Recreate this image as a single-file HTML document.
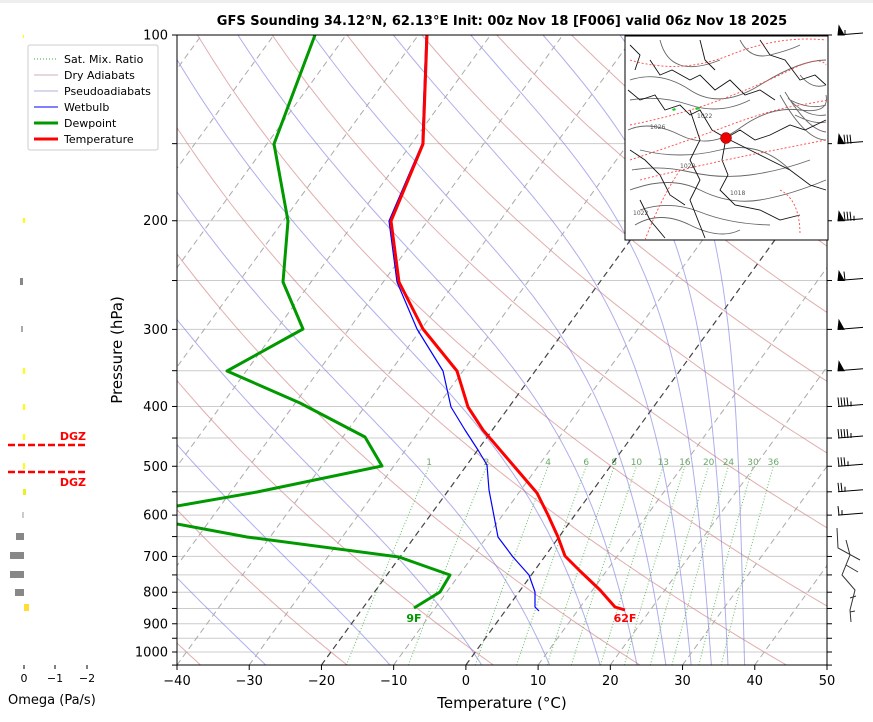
<!DOCTYPE html>
<html><head><meta charset="utf-8"><style>
html,body{margin:0;padding:0;background:#fff;}
svg text{font-family:"DejaVu Sans","Liberation Sans",sans-serif;}
</style></head><body>
<svg id="s" width="873" height="717" viewBox="0 0 873 717" xmlns="http://www.w3.org/2000/svg">
<rect x="0" y="0" width="873" height="717" fill="#fff"/>
<rect x="0" y="0" width="873" height="3" fill="#eee"/>
<defs><clipPath id="cp"><rect x="177" y="35" width="650" height="630"/></clipPath></defs>
<g id="bg" clip-path="url(#cp)"></g>
<g id="prof" clip-path="url(#cp)"></g>
<g id="ax"></g>
<!-- inset map -->
<g>
<rect x="625" y="36" width="203" height="204" fill="#fff" stroke="#000" stroke-width="1"/>
<g fill="none" stroke="#666" stroke-width="0.9">
<path d="M630 80 Q660 70 690 90 T760 85 T826 60"/>
<path d="M628 130 Q650 120 680 135 T740 128 T800 110 T826 95"/>
<path d="M640 150 Q680 160 720 150 T790 170"/>
<path d="M630 190 Q670 175 700 190 T760 200 T826 180"/>
<path d="M635 225 Q660 210 690 225 T740 230"/>
<path d="M790 100 Q810 110 826 105 M795 115 Q815 125 826 122 M800 75 Q812 90 826 85 M780 95 Q805 140 826 140 M785 92 Q808 130 826 132 M788 98 Q806 118 826 115"/>
<path d="M740 40 Q750 60 770 55 T800 45"/>
<path d="M630 100 Q660 95 690 105 T750 100"/>
<path d="M632 170 Q660 165 690 172 T750 175 T810 160"/>
<path d="M640 210 Q670 200 700 212 T770 225"/>
<path d="M660 40 Q665 60 680 65 T720 60"/>
</g>
<g fill="none" stroke="#111" stroke-width="0.9">
<path d="M628 90 L640 100 L655 95 L665 110 L680 105 L690 115 L700 110 L712 130 L726 138 L740 130 L755 140 L770 135 L790 125 L805 130 L826 120"/>
<path d="M726 138 L722 160 L728 175 L720 190 L735 205 L760 210 L780 220 L800 215"/>
<path d="M650 60 L660 75 L672 70 L690 80 L700 75 L715 90 L730 80 L745 95 L760 90 L775 100"/>
<path d="M700 40 L705 60 L715 70 M690 110 L700 140 L690 160 L700 180 L690 200 L705 238"/>
<path d="M726 138 L750 150 L770 160 L790 170 L810 185 L826 190"/>
<path d="M630 150 L645 160 L660 175 L670 195 L685 205 M640 200 L650 220 L665 238"/>
<path d="M760 40 L770 55 L785 60 L800 80 L815 75 L826 85 M630 45 L640 55 L635 70"/>
</g>
<g fill="none" stroke="#f44" stroke-width="0.9" stroke-dasharray="2,2">
<path d="M630 60 Q680 75 730 55 T826 40"/>
<path d="M630 125 Q680 115 720 100 T790 70 T826 65"/>
<path d="M630 160 Q690 140 730 125 T800 105 T826 100"/>
<path d="M640 180 Q700 165 750 155 T826 140"/>
<path d="M645 240 Q660 200 680 170"/>
<path d="M780 190 Q800 200 800 235"/>
</g>
<path d="M672 109 l3 -1 l1 2 l-3 1z M695 108 l4 -1 l1 2 l-4 1z" fill="#2c2"/>
<circle cx="726" cy="138" r="5.5" fill="#e00" stroke="#600" stroke-width="0.5"/>
<g font-size="6" fill="#555"><text x="633" y="215">1022</text><text x="680" y="168">1020</text><text x="730" y="195">1018</text><text x="650" y="129">1026</text><text x="697" y="118">1022</text></g>
</g>
<!-- legend -->
<g font-size="11" fill="#000">
<rect x="28" y="45" width="130" height="105" fill="#fff" stroke="#ccc" rx="2"/>
<line x1="34" y1="59" x2="58" y2="59" stroke="#4a4" stroke-dasharray="1,2"/><text x="64" y="63">Sat. Mix. Ratio</text>
<line x1="34" y1="75" x2="58" y2="75" stroke="#b99" stroke-width="0.8"/><text x="64" y="79">Dry Adiabats</text>
<line x1="34" y1="91" x2="58" y2="91" stroke="#99c" stroke-width="0.8"/><text x="64" y="95">Pseudoadiabats</text>
<line x1="34" y1="107" x2="58" y2="107" stroke="#00f" stroke-width="1"/><text x="64" y="111">Wetbulb</text>
<line x1="34" y1="123" x2="58" y2="123" stroke="#090" stroke-width="3"/><text x="64" y="127">Dewpoint</text>
<line x1="34" y1="139" x2="58" y2="139" stroke="#f00" stroke-width="3"/><text x="64" y="143">Temperature</text>
</g>
<text x="502" y="25" font-size="13" font-weight="bold" text-anchor="middle">GFS Sounding 34.12°N, 62.13°E Init: 00z Nov 18 [F006] valid 06z Nov 18 2025</text>
<text x="502" y="708" font-size="15" text-anchor="middle">Temperature (°C)</text>
<text transform="translate(122,350) rotate(-90)" font-size="15" text-anchor="middle">Pressure (hPa)</text>
<!-- omega panel -->
<g>
<rect x="23" y="35" width="1" height="3" fill="#ff0"/>
<rect x="23" y="218" width="2" height="5" fill="#ff0"/>
<rect x="20" y="278" width="3" height="7" fill="#888"/>
<rect x="21" y="326" width="2" height="6" fill="#aaa"/>
<rect x="23" y="368" width="2" height="6" fill="#ff0"/>
<rect x="23" y="404" width="2" height="6" fill="#ff0"/>
<rect x="23" y="434" width="2" height="6" fill="#ff0"/>
<rect x="23" y="463" width="2" height="6" fill="#ff0"/>
<rect x="23" y="489" width="3" height="6" fill="#ee2"/>
<rect x="22" y="512" width="2" height="6" fill="#ccc"/>
<rect x="16" y="533" width="8" height="7" fill="#888"/>
<rect x="10" y="552" width="14" height="7" fill="#888"/>
<rect x="10" y="571" width="14" height="7" fill="#888"/>
<rect x="15" y="589" width="9" height="7" fill="#888"/>
<rect x="24" y="604" width="5" height="7" fill="#fd3"/>
<line x1="8" y1="445" x2="86" y2="445" stroke="#f00" stroke-width="2.5" stroke-dasharray="7,3"/>
<line x1="8" y1="472" x2="86" y2="472" stroke="#f00" stroke-width="2.5" stroke-dasharray="7,3"/>
<text x="86" y="440" font-size="11" font-weight="bold" fill="#f00" text-anchor="end">DGZ</text>
<text x="86" y="486" font-size="11" font-weight="bold" fill="#f00" text-anchor="end">DGZ</text>
<g stroke="#000"><line x1="24" y1="665" x2="24" y2="669"/><line x1="55" y1="665" x2="55" y2="669"/><line x1="87" y1="665" x2="87" y2="669"/></g>
<g font-size="11" text-anchor="middle"><text x="24" y="682">0</text><text x="55" y="682">−1</text><text x="87" y="682">−2</text></g>
<text x="8" y="704" font-size="13">Omega (Pa/s)</text>
</g>
<g id="barbs" stroke="#000" fill="#000" stroke-width="1"></g>
</svg>
<script>
(function(){
var NS="http://www.w3.org/2000/svg";
function yP(p){return 35+617*Math.log10(p/100);}
function xT(T,p){return 177+7.2222*(T+40)+0.727*(665-yP(p));}
function el(parent,tag,attrs,txt){var e=document.createElementNS(NS,tag);for(var k in attrs)e.setAttribute(k,attrs[k]);if(txt!=null)e.textContent=txt;parent.appendChild(e);return e;}
var bg=document.getElementById('bg'),prof=document.getElementById('prof'),ax=document.getElementById('ax');
for(var p=100;p<=1050;p+=50){var y=yP(p);el(bg,'line',{x1:177,x2:827,y1:y,y2:y,stroke:'#ccc','stroke-width':1});}
function poly(arr,attrs){var d='';for(var i=0;i<arr.length;i++){d+=(i?'L':'M')+arr[i][0].toFixed(1)+' '+arr[i][1].toFixed(1);}attrs.d=d;attrs.fill='none';return el(bg,'path',attrs);}
for(var t0=-40;t0<=200;t0+=20){var th=t0+273.15,a=[];for(var p=1050;p>=100;p-=10){var T=th*Math.pow(p/1000,0.2857)-273.15;a.push([xT(T,p),yP(p)]);}poly(a,{stroke:'rgb(205,120,120)','stroke-opacity':0.6,'stroke-width':1});}
function es(Tc){return 6.112*Math.exp(17.67*Tc/(Tc+243.5));}
function dTdp(T,p){var Tc=T-273.15,e=es(Tc),rs=0.622*e/(p-e);var Rd=287.04,Lv=2.501e6,Cp=1005.7;var f=(Rd*T+Lv*rs)/(Cp+Lv*Lv*rs*0.622/(Rd*T*T));return f/p;}
function integ(T,p0,p1,h){var a=[[T,p0]],p=p0;var s=p1<p0?-h:h;while((s<0&&p>p1)||(s>0&&p<p1)){var k1=dTdp(T,p),k2=dTdp(T+s*k1/2,p+s/2),k3=dTdp(T+s*k2/2,p+s/2),k4=dTdp(T+s*k3,p+s);T+=s*(k1+2*k2+2*k3+k4)/6;p+=s;a.push([T,p]);}return a;}
[-75,-49,-27.7,-10.5,2.2,11.6,18.6,23.7,27.7,31.2,34,36.3,38.6].forEach(function(t0){var up=integ(t0+273.15,1050,100,5);var a=up.map(function(q){return [xT(q[0]-273.15,q[1]),yP(q[1])];});poly(a,{stroke:'rgb(110,110,220)','stroke-opacity':0.55,'stroke-width':1});});
function tdw(w,p){var e=p*w/(0.622+w);var l=Math.log(e/6.112);return 243.5*l/(17.67-l);}
[1,2,4,6,8,10,13,16,20,24,30,36].forEach(function(g){var w=g/1000,a=[];for(var p=1050;p>=500;p-=10)a.push([xT(tdw(w,p),p),yP(p)]);poly(a,{stroke:'#3a3','stroke-opacity':0.75,'stroke-width':1,'stroke-dasharray':'1,2'});var x=xT(tdw(w,500),500);el(bg,'text',{x:x,y:465,'font-size':9,fill:'#6a6','text-anchor':'middle'},String(g));});
for(var T=-120;T<=50;T+=10){var dark=(T==0||T==-20);el(bg,'line',{x1:xT(T,1050),y1:yP(1050),x2:xT(T,100),y2:yP(100),stroke:dark?'#444':'#aaa','stroke-width':dark?1.2:1,'stroke-dasharray':'6,4'});}
function pl(pts,c,w){var d='';pts.forEach(function(q,i){d+=(i?'L':'M')+q[0]+' '+q[1];});el(prof,'path',{d:d,fill:'none',stroke:c,'stroke-width':w,'stroke-linejoin':'round'});}
pl([[426,35],[422,144],[389,221],[397,282],[417,329],[443,371],[451,407],[465,430],[478,450],[487,465],[489,490],[498,537],[513,557],[529,575],[535,592],[535,607],[539,611]],'#00f',1.2);
pl([[315,35],[274,144],[288,221],[283,282],[303,329],[227,371],[300,403],[365,437],[382,466],[257,492],[177,506]],'#090',3);
pl([[177,524],[247,537],[399,557],[450,575],[440,592],[414,608]],'#090',3);
pl([[427,35],[423,144],[391,221],[399,282],[423,329],[457,371],[468,407],[483,430],[513,465],[537,493],[548,515],[558,537],[565,556],[580,571],[600,590],[615,607],[625,610]],'#f00',3);
el(ax,'text',{x:414,y:622,'font-size':11,'font-weight':'bold',fill:'#090','text-anchor':'middle'},'9F');
el(ax,'text',{x:625,y:622,'font-size':11,'font-weight':'bold',fill:'#f00','text-anchor':'middle'},'62F');
el(ax,'rect',{x:177,y:35,width:650,height:630,fill:'none',stroke:'#000','stroke-width':1});
for(var T=-40;T<=50;T+=10){var x=177+7.2222*(T+40);el(ax,'line',{x1:x,x2:x,y1:665,y2:670,stroke:'#000'});el(ax,'text',{x:x,y:685,'font-size':13,'text-anchor':'middle'},T<0?'−'+(-T):String(T));}
for(var p=100;p<=1050;p+=50){var y=yP(p);el(ax,'line',{x1:172,x2:177,y1:y,y2:y,stroke:'#000'});el(ax,'line',{x1:827,x2:832,y1:y,y2:y,stroke:'#000'});if(p%100==0)el(ax,'text',{x:168,y:y+4.5,'font-size':13,'text-anchor':'end'},String(p));}
var bb=document.getElementById('barbs');
function barb(y,fl,full,half){var x0=838,x1=863;el(bb,'line',{x1:x0,y1:y,x2:x1,y2:y-2});var x=x0;for(var i=0;i<fl;i++){el(bb,'path',{d:'M'+x+' '+y+'L'+(x+1)+' '+(y-9)+'L'+(x+6)+' '+y+'Z'});x+=6;}for(var i=0;i<full;i++){el(bb,'line',{x1:x+1,y1:y,x2:x,y2:y-9});x+=3;}for(var i=0;i<half;i++){el(bb,'line',{x1:x+1,y1:y,x2:x+1,y2:y-5});}}
barb(yP(100),1,0,1);barb(yP(150),1,3,0);barb(yP(200),1,3,1);barb(yP(250),1,1,0);barb(yP(300),1,0,0);barb(yP(350),1,0,0);barb(yP(400),0,4,1);barb(yP(450),0,4,1);barb(yP(500),0,3,1);barb(yP(550),0,2,1);barb(yP(600),0,1,1);
el(bb,'path',{d:'M837 528 L838 548 L860 560 M846 540 L850 555 L842 575 L855 590 L850 610 L851 622',fill:'none','stroke-width':1,stroke:'#333'});
el(bb,'path',{d:'M846 565 L858 572 M850 598 L856 596 M850 612 L855 611',fill:'none',stroke:'#333'});
})();
</script>
</body></html>
